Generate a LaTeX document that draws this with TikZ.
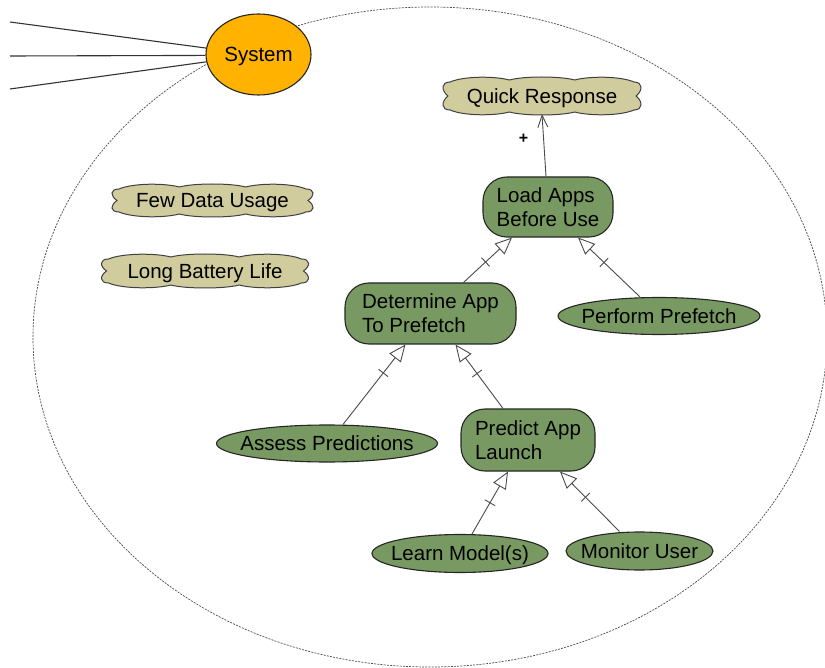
\documentclass[tikz,border=0pt]{standalone}
\usepackage{fontspec}
\setmainfont{Liberation Sans}
\usetikzlibrary{arrows.meta,shapes.geometric,decorations.markings}

\definecolor{goalgreen}{HTML}{789A62}
\definecolor{softkhaki}{HTML}{D0CC9E}
\definecolor{actororange}{HTML}{FFB300}
\definecolor{edgegray}{HTML}{4A4A4A}

\tikzset{
  lbl/.style={font=\fontsize{20.5}{24}\selectfont, text=black},
  oneline/.style={text height=14.7pt, text depth=0pt},
  taskbox/.style={lbl, draw=black!85, line width=1.1pt, fill=goalgreen,
    rounded corners=24pt, inner sep=0pt, align=left},
  taskoval/.style={lbl, oneline, ellipse, draw=black!85, line width=1.1pt,
    fill=goalgreen, inner sep=0pt},
  actor/.style={lbl, oneline, ellipse, draw=black!85, line width=1.1pt,
    fill=actororange, inner sep=0pt},
  softshape/.style={draw=black!75, line width=1pt, fill=softkhaki},
  boundary/.style={draw=black!70, line width=0.7pt, dash pattern=on 2pt off 1.2pt},
  assoc/.style={draw=black!80, line width=1.1pt},
  refine/.style={draw=edgegray, line width=0.9pt,
    -{Triangle[open, length=17pt, width=14.5pt, line width=0.9pt, fill=white]},
    postaction={decorate},
    decoration={markings, mark=at position -36pt with
      {\draw[arrows=-, edgegray, line width=0.9pt] (0,-6pt) -- (0,6pt);}}},
  contrib/.style={draw=edgegray, line width=0.9pt,
    -{Straight Barb[length=12pt, width=10pt, line width=0.9pt]}},
  signlbl/.style={font=\bfseries\fontsize{16}{16}\selectfont, text=black}
}

% softgoal cloud: name, x, y, half width, half height, text
\newcommand\softgoal[6]{%
  \begin{scope}[shift={(#2,#3)}]
    \path[softshape] (-#4+6,-#5+4)
      .. controls (-#4+20,-#5-2) and (-#4/3-15,-#5-2) .. (-#4/3,-#5+2)
      .. controls (-#4/3+15,-#5-2) and (#4/3-15,-#5-2) .. (#4/3,-#5+2)
      .. controls (#4/3+15,-#5-2) and (#4-20,-#5-2) .. (#4-6,-#5+4)
      .. controls (#4+3,-#5+4) and (#4+3,-#5*0.3) .. (#4-4,0)
      .. controls (#4+3,#5*0.3) and (#4+3,#5-4) .. (#4-6,#5-4)
      .. controls (#4-20,#5+2) and (#4/3+15,#5+2) .. (#4/3,#5-2)
      .. controls (#4/3-15,#5+2) and (-#4/3+15,#5+2) .. (-#4/3,#5-2)
      .. controls (-#4/3-15,#5+2) and (-#4+20,#5+2) .. (-#4+6,#5-4)
      .. controls (-#4-3,#5-4) and (-#4-3,#5*0.3) .. (-#4+4,0)
      .. controls (-#4-3,-#5*0.3) and (-#4-3,-#5+4) .. (-#4+6,-#5+4) -- cycle;
    \node[lbl, oneline, minimum width=2*#4, minimum height=2*#5, inner sep=0pt]
      (#1) at (0,0) {#6};
  \end{scope}}

\begin{document}
\begin{tikzpicture}[x=1pt, y=-1pt]
  \useasboundingbox (0,0) rectangle (825,668);
  \fill[white] (0,0) rectangle (825,668);

  % system boundary
  \draw[boundary] (430,337) ellipse [x radius=397pt, y radius=330pt];

  % actor and its incoming links
  \node[actor, minimum width=105pt, minimum height=81pt] (sys) at (258.5,54.5) {System};
  \coordinate (in1) at (10,22);
  \coordinate (in2) at (10,56);
  \coordinate (in3) at (10,89);
  \draw[assoc] (in1) -- (sys.173);
  \draw[assoc] (in2) -- (sys.181);
  \draw[assoc] (in3) -- (sys.188);

  % softgoals
  \softgoal{qr}{542}{96}{98}{18}{Quick Response}
  \softgoal{fdu}{212.5}{200.5}{99.5}{15.5}{Few Data Usage}
  \softgoal{lbat}{205}{271}{102.5}{16}{Long Battery Life}

  % tasks
  \node[taskbox, minimum width=130pt, minimum height=60pt] (lab) at (548,207) {Load Apps\\Before Use};
  \node[taskbox, minimum width=171pt, minimum height=61pt] (det) at (430.5,313.5) {Determine App\\To Prefetch};
  \node[taskbox, minimum width=134pt, minimum height=62pt] (pal) at (528,440) {Predict App\\Launch};
  \node[taskoval, minimum width=202pt, minimum height=37pt] (pp) at (659,316) {\makebox[0pt]{Perform Prefetch}};
  \node[taskoval, minimum width=221pt, minimum height=37pt] (ap) at (327,443.5) {\makebox[0pt]{Assess Predictions}};
  \node[taskoval, minimum width=176pt, minimum height=38pt] (lm) at (460,553.5) {\makebox[0pt]{Learn Model(s)}};
  \node[taskoval, minimum width=147pt, minimum height=38pt] (mu) at (639.5,551) {\makebox[0pt]{Monitor User}};

  % decomposition links
  \draw[refine] ([xshift=33pt]det.north) -- ([xshift=-36pt]lab.south);
  \draw[refine] ([xshift=-19pt]pp.north) -- ([xshift=30pt]lab.south);
  \draw[refine] ([xshift=16pt]ap.north) -- ([xshift=-25pt]det.south);
  \draw[refine] ([xshift=-25pt]pal.north) -- ([xshift=25pt]det.south);
  \draw[refine] ([xshift=12pt]lm.north) -- ([xshift=-20pt]pal.south);
  \draw[refine] ([xshift=-20pt]mu.north) -- ([xshift=32pt]pal.south);

  % contribution link
  \draw[contrib] ([xshift=-2pt]lab.north) -- node[signlbl, pos=0.6, xshift=-20pt] {+} (qr.south);
\end{tikzpicture}
\end{document}
